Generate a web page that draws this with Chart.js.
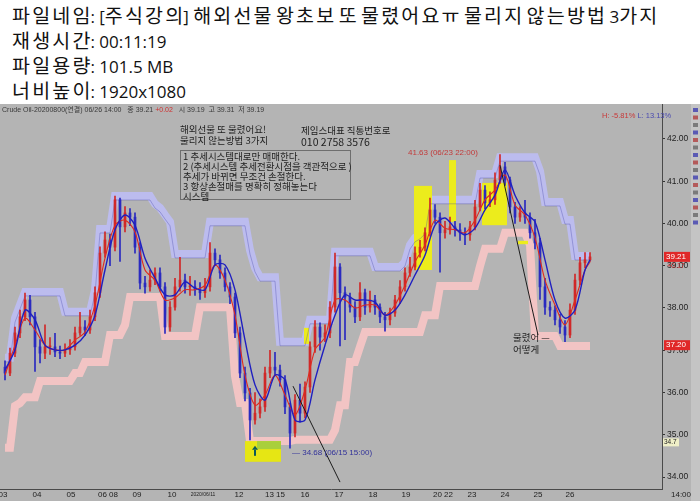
<!DOCTYPE html>
<html>
<head>
<meta charset="utf-8">
<script src="https://cdn.jsdelivr.net/npm/chart.js@4.4.1/dist/chart.umd.min.js"></script>
<style>
  body { margin: 0; background: #fff; width: 700px; height: 501px; overflow: hidden; position: relative; }
  #head { position: absolute; left: 12px; top: 4px; font-family: "Open Sans", "Noto Sans CJK KR", sans-serif; font-size: 17px; color: #111; }
  #head div { height: 25px; line-height: 25px; white-space: nowrap; }
  #head .k { font-family: "Noto Sans CJK KR", sans-serif; font-size: 19.5px; letter-spacing: 2.2px; margin-right: -2.2px; line-height: 1; }
  #wrap { position: absolute; left: 0; top: 104px; width: 700px; height: 397px; background: #b4b4b4; }
  .t { position: absolute; white-space: nowrap; font-family: "Noto Sans CJK KR", sans-serif; color: #1e1e1e; font-size: 9.5px; line-height: 11px; }
  #rules { position: absolute; left: 180px; top: 46px; width: 171px; height: 50px; border: 1px solid #6e6e6e; box-sizing: border-box; padding-left: 2px; font-size: 9.5px; line-height: 10px; }
</style>
</head>
<body>
<div id="head">
  <div><span class="k">파일네임</span>: [<span class="k">주식강의</span>] <span class="k">해외선물</span> <span class="k">왕초보</span> <span class="k">또</span> <span class="k">물렸어요ㅠ</span> <span class="k">물리지</span> <span class="k">않는방법</span> 3<span class="k">가지</span></div>
  <div><span class="k">재생시간</span>: 00:11:19</div>
  <div><span class="k">파일용량</span>: 101.5 MB</div>
  <div><span class="k">너비높이</span>: 1920x1080</div>
</div>
<div id="wrap">
  <canvas id="chart" width="700" height="397"></canvas>
  <div class="t" style="left:180px;top:20px">해외선물 또 물렸어요!<br>물리지 않는방법 3가지</div>
  <div class="t" style="left:301px;top:21px">제임스대표 직통번호로<br><span style="font-size:10.5px">010 2758 3576</span></div>
  <div class="t" id="rules">1 추세시스템대로만 매매한다.<br>2 (추세시스템 추세전환시점을 객관적으로 )<br>추세가 바뀌면 무조건 손절한다.<br>3 항상손절매를 명확히 정해놓는다<br>시스템</div>
</div>
<script>
// hourly crude oil candles, one every ~5px of the picture
const opens = [36.60, 36.46, 36.93, 37.41, 37.79, 38.19, 37.79, 37.08, 36.93, 37.08,
  37.08, 36.96, 36.93, 37.01, 37.08, 37.41, 37.55, 37.48, 37.79, 38.36,
  39.30, 39.61, 39.44, 40.56, 39.92, 40.25, 40.15, 39.44, 38.59, 38.50,
  38.66, 38.83, 38.50, 37.55, 38.02, 38.50, 38.66, 38.50, 38.50, 38.43,
  38.36, 38.50, 39.30, 39.14, 38.83, 38.50, 38.26, 37.41, 36.46, 35.99,
  35.35, 35.51, 35.66, 36.46, 36.60, 36.53, 36.30, 35.66, 35.04, 35.82,
  35.51, 36.13, 37.08, 37.55, 37.31, 37.41, 38.02, 38.97, 38.36, 38.26,
  38.02, 37.79, 38.36, 38.02, 38.19, 38.02, 37.79, 37.72, 37.88, 38.19,
  38.50, 38.83, 38.97, 39.30, 39.44, 39.78, 40.32, 40.15, 39.78, 39.85,
  39.92, 39.85, 39.78, 39.73, 39.92, 40.39, 40.79, 40.49, 40.56, 41.03,
  41.34, 41.03, 40.39, 40.15, 40.25, 40.15, 39.78, 39.54, 38.50, 38.02,
  37.95, 37.72, 37.55, 37.36, 37.95, 38.66, 39.07, 39.14];
const closes = [36.46, 36.93, 37.41, 37.79, 38.19, 37.79, 37.08, 36.93, 37.08, 37.08,
  36.96, 36.93, 37.01, 37.08, 37.41, 37.55, 37.48, 37.79, 38.36, 39.30,
  39.61, 39.44, 40.56, 39.92, 40.25, 40.15, 39.44, 38.59, 38.50, 38.66,
  38.83, 38.50, 37.55, 38.02, 38.50, 38.66, 38.50, 38.50, 38.43, 38.36,
  38.50, 39.30, 39.14, 38.83, 38.50, 38.26, 37.41, 36.46, 35.99, 35.35,
  35.51, 35.66, 36.46, 36.60, 36.53, 36.30, 35.66, 35.04, 35.82, 35.51,
  36.13, 37.08, 37.55, 37.31, 37.41, 38.02, 38.97, 38.36, 38.26, 38.02,
  37.79, 38.36, 38.02, 38.19, 38.02, 37.79, 37.72, 37.88, 38.19, 38.50,
  38.83, 38.97, 39.30, 39.44, 39.78, 40.32, 40.15, 39.78, 39.85, 39.92,
  39.85, 39.78, 39.73, 39.92, 40.39, 40.79, 40.49, 40.56, 41.03, 41.34,
  41.03, 40.39, 40.15, 40.25, 40.15, 39.78, 39.54, 38.50, 38.02, 37.95,
  37.72, 37.55, 37.36, 37.95, 38.66, 39.07, 39.14, 39.21];
const highs = [36.75, 37.05, 37.55, 37.95, 38.35, 38.30, 37.90, 37.25, 37.60, 37.30,
  37.40, 37.10, 37.15, 37.25, 37.55, 37.90, 37.70, 37.95, 38.50, 39.45,
  39.80, 39.75, 40.65, 40.60, 40.40, 40.35, 40.25, 39.55, 38.75, 38.90,
  38.95, 38.95, 38.60, 38.15, 38.70, 39.20, 38.80, 38.75, 38.65, 38.60,
  38.70, 39.55, 39.40, 39.25, 38.95, 38.60, 38.35, 37.55, 36.60, 36.10,
  36.00, 35.85, 36.60, 37.00, 36.95, 36.65, 36.40, 35.75, 35.95, 36.20,
  36.25, 37.20, 37.70, 37.65, 37.60, 38.15, 39.30, 39.05, 38.50, 38.35,
  38.15, 38.60, 38.45, 38.40, 38.30, 38.10, 37.90, 38.00, 38.30, 38.65,
  38.95, 39.20, 39.45, 39.60, 39.90, 40.60, 40.45, 40.25, 40.05, 40.15,
  40.05, 40.00, 39.90, 40.05, 40.55, 40.95, 40.90, 40.75, 41.20, 41.63,
  41.45, 41.10, 40.50, 40.40, 40.55, 40.25, 40.10, 39.65, 38.70, 38.15,
  38.05, 37.85, 37.70, 38.10, 38.80, 39.20, 39.31, 39.31];
const lows = [36.30, 36.40, 36.85, 37.30, 37.70, 37.60, 36.50, 36.70, 36.80, 36.90,
  36.85, 36.80, 36.85, 36.90, 37.00, 37.35, 37.35, 37.40, 37.70, 38.25,
  39.20, 39.00, 39.35, 39.10, 39.80, 39.95, 39.30, 38.45, 38.35, 38.40,
  38.55, 38.40, 37.40, 37.45, 37.95, 38.40, 38.35, 38.30, 38.30, 38.20,
  38.25, 38.40, 39.00, 38.70, 38.40, 38.10, 37.30, 36.35, 35.80, 34.88,
  35.25, 35.40, 35.55, 36.35, 36.40, 36.15, 35.50, 34.68, 34.95, 35.30,
  35.40, 36.00, 36.95, 37.00, 37.20, 37.30, 37.90, 37.10, 37.25, 37.90,
  37.65, 37.70, 37.85, 37.90, 37.85, 37.65, 37.45, 37.60, 37.80, 38.10,
  38.40, 38.75, 38.90, 39.20, 39.35, 39.70, 40.00, 38.85, 39.65, 39.75,
  39.70, 39.60, 39.50, 39.60, 39.85, 40.30, 40.35, 40.40, 40.45, 40.95,
  40.90, 40.25, 40.00, 40.05, 40.00, 39.65, 39.40, 38.20, 37.85, 37.80,
  37.60, 37.40, 37.20, 37.30, 37.85, 38.55, 38.95, 39.10];

// stepped channel (upper lavender, lower pink), same spacing as the candles
const upperBand = [36.82, 36.82, 37.76, 38.07, 38.38, 38.38, 38.38, 38.38, 38.38, 38.38,
  38.38, 38.38, 37.91, 37.91, 37.91, 37.91, 37.91, 37.91, 38.43, 39.87,
  39.87, 39.87, 40.65, 40.65, 40.65, 40.65, 40.65, 40.65, 40.65, 40.65,
  40.46, 40.37, 40.20, 40.04, 39.28, 39.28, 39.28, 39.28, 39.28, 39.28,
  39.28, 40.04, 40.04, 40.04, 40.04, 40.04, 40.04, 40.04, 40.04, 39.37,
  38.95, 38.73, 38.73, 38.73, 38.73, 37.20, 37.20, 37.20, 37.20, 37.20,
  37.20, 37.72, 37.72, 37.72, 37.72, 37.72, 39.33, 39.33, 39.33, 39.33,
  39.33, 39.33, 39.33, 39.33, 38.97, 38.97, 38.97, 38.97, 38.97, 38.97,
  39.09, 39.49, 39.66, 39.73, 39.85, 40.56, 40.56, 40.56, 40.56, 40.56,
  40.56, 40.56, 40.56, 40.56, 40.56, 41.17, 41.17, 41.17, 41.17, 41.57,
  41.57, 41.57, 41.57, 41.57, 41.57, 41.57, 41.57, 41.24, 40.51, 40.51,
  40.51, 40.51, 40.08, 40.08, 39.23, 39.23, 39.23, 39.23];
const lowerBand = [34.69, 34.69, 35.68, 35.75, 35.89, 35.89, 35.89, 36.27, 36.27, 36.27,
  36.27, 36.27, 36.27, 36.27, 36.46, 36.46, 36.72, 36.72, 36.72, 36.72,
  36.72, 37.36, 37.36, 37.36, 37.60, 38.26, 38.26, 38.26, 38.26, 38.26,
  38.26, 38.26, 37.34, 37.34, 37.34, 37.34, 37.34, 37.34, 37.34, 38.02,
  38.02, 38.02, 38.02, 38.02, 38.02, 38.02, 36.39, 35.75, 35.75, 34.85,
  34.85, 34.85, 34.85, 34.85, 34.85, 34.85, 34.85, 34.85, 34.88, 34.88,
  34.88, 34.88, 34.88, 34.88, 34.88, 34.88, 35.11, 35.70, 35.70, 36.72,
  36.72, 37.08, 37.43, 37.43, 37.43, 37.43, 37.43, 37.43, 37.43, 37.43,
  37.43, 37.43, 37.43, 37.43, 37.83, 37.83, 37.83, 38.52, 38.52, 38.52,
  38.52, 38.52, 38.52, 38.52, 38.52, 38.99, 39.40, 39.40, 39.40, 39.40,
  39.78, 39.78, 39.78, 39.78, 39.78, 39.49, 37.34, 37.34, 37.34, 37.34,
  37.34, 37.10, 37.10, 37.10, 37.10, 37.10, 37.10, 37.10];

// the two averages, read every second candle (last one on the final candle)
const redLine = [36.41, 37.12, 37.76, 37.48, 37.12, 37.01, 37.01, 37.24, 37.43, 38.07,
  39.18, 39.96, 40.08, 39.80, 38.90, 38.66, 38.19, 38.24, 38.43, 38.43,
  38.54, 39.02, 38.66, 37.83, 36.41, 35.70, 35.94, 36.41, 35.94, 35.47,
  36.06, 37.01, 37.31, 38.19, 38.19, 38.00, 38.07, 38.07, 37.83, 38.07,
  38.54, 39.09, 39.49, 40.08, 39.89, 39.85, 39.78, 40.08, 40.56, 40.79,
  41.15, 40.44, 40.20, 39.66, 38.66, 38.07, 37.60, 38.19, 38.90, 39.09];
const blueLine = [36.53, 37.01, 37.95, 37.72, 37.12, 37.01, 37.01, 37.12, 37.36, 37.83,
  38.90, 39.85, 40.20, 39.96, 39.18, 38.71, 38.31, 38.31, 38.62, 38.47,
  38.43, 39.02, 39.02, 38.43, 37.24, 36.18, 35.82, 36.41, 36.30, 35.35,
  35.35, 36.30, 37.12, 37.83, 38.31, 38.19, 38.19, 38.14, 37.83, 37.95,
  38.31, 38.78, 39.25, 39.96, 40.13, 39.89, 39.73, 39.89, 40.32, 40.67,
  41.27, 40.67, 40.25, 40.04, 39.14, 38.19, 37.76, 37.95, 38.90, 39.14];

const yTicks = [34, 35, 36, 37, 38, 39, 40, 41, 42];
const dayLabels = ["03", "04", "05", "06 08", "09", "10", "2020/06/11", "12", "13 15", "16", "17", "18", "19", "20 22", "23", "24", "25", "26"];
const dayPos = [-0.4, 6.4, 13.2, 20.6, 26.4, 33.4, 39.6, 46.8, 54, 60, 66.8, 73.6, 80.2, 87.6, 93.4, 100, 106.6, 113];

// highlighted zones and pen strokes, in candle index / price units
const zones = [
  { x0: 48, x1: 55.2, y0: 34.36, y1: 34.85, color: "#e6e614" },
  { x0: 50.4, x1: 55.2, y0: 34.66, y1: 34.85, color: "#a9cf3c" },
  { x0: 81.8, x1: 85.4, y0: 38.90, y1: 40.89, color: "#ecec1c" },
  { x0: 88.8, x1: 90.2, y0: 40.04, y1: 41.50, color: "#ecec1c" },
  { x0: 95.4, x1: 100.4, y0: 39.96, y1: 40.96, color: "#ecec1c" },
  { x0: 59.8, x1: 60.8, y0: 37.15, y1: 37.53, color: "#ecec1c" },
  { x0: 102.6, x1: 104.6, y0: 39.51, y1: 39.59, color: "#ecec1c" }
];
const strokes = [
  [57.6, 36.15, 67, 33.88],
  [99, 41.38, 106.6, 37.36]
];

const candleColor = closes.map((c, i) => c >= opens[i] ? "#d02828" : "#2a2ac0");
const lastIdx = closes.length - 1;
const avgX = i => Math.min(i * 2, lastIdx);

const ctx = document.getElementById("chart").getContext("2d");

// write a row of coloured text pieces one after another
function textRun(c, parts, x, y) {
  parts.forEach(([t, col]) => {
    c.fillStyle = col;
    c.fillText(t, x, y);
    x += c.measureText(t).width;
  });
}

const overlay = {
  id: "overlay",
  afterDatasetDraw(chart, args) {
    // yellow zones sit above the channel, under the candles
    if (args.index !== 1) return;
    const x = chart.scales.x, y = chart.scales.y, c = chart.ctx;
    c.save();
    zones.forEach(z => {
      c.fillStyle = z.color;
      const px0 = x.getPixelForValue(z.x0), px1 = x.getPixelForValue(z.x1);
      const py0 = y.getPixelForValue(z.y1), py1 = y.getPixelForValue(z.y0);
      c.fillRect(px0, py0, px1 - px0, py1 - py0);
    });
    // thin edge under the lavender band
    const pts = chart.getDatasetMeta(0).data;
    c.strokeStyle = "rgba(70,70,170,0.35)";
    c.lineWidth = 1;
    c.beginPath();
    pts.forEach((p, i) => i ? c.lineTo(p.x, p.y + 4) : c.moveTo(p.x, p.y + 4));
    c.stroke();
    c.restore();
  },
  afterDraw(chart) {
    const x = chart.scales.x, y = chart.scales.y, c = chart.ctx;
    c.save();
    // pen strokes
    c.strokeStyle = "#1c1c1c";
    c.lineWidth = 1;
    strokes.forEach(s => {
      c.beginPath();
      c.moveTo(x.getPixelForValue(s[0]), y.getPixelForValue(s[1]));
      c.lineTo(x.getPixelForValue(s[2]), y.getPixelForValue(s[3]));
      c.stroke();
    });
    // green arrow in the low zone
    const ax = x.getPixelForValue(50), ay = y.getPixelForValue(34.62);
    c.fillStyle = "#0d5a5a";
    c.beginPath();
    c.moveTo(ax, ay - 5); c.lineTo(ax - 3, ay - 1); c.lineTo(ax + 3, ay - 1); c.closePath();
    c.fill();
    c.fillRect(ax - 1, ay - 1, 2, 6);

    c.font = "8px 'Liberation Sans', sans-serif";
    c.textBaseline = "middle";
    c.fillStyle = "#c23a3a";
    c.fillText("41.63 (06/23 22:00)", x.getPixelForValue(80.6), y.getPixelForValue(41.67));
    c.fillStyle = "#33339a";
    c.fillText("\u2014 34.68 (06/15 15:00)", x.getPixelForValue(57.4), y.getPixelForValue(34.58));

    // top info line and H/L
    c.font = "7px 'Liberation Sans', 'Noto Sans CJK KR', sans-serif";
    textRun(c, [["Crude Oil-20200800(연결) 06/26 14:00   종 39.21 ", "#3a3a3a"], ["+0.02", "#d03030"],
      ["   시 39.19  고 39.31  저 39.19", "#3a3a3a"]], 2, 6);
    c.font = "7.5px 'Liberation Sans', sans-serif";
    textRun(c, [["H: -5.81% ", "#c83838"], ["L: 13.13%", "#4a4ab0"]], 602, 12);

    // Korean note near the fall
    c.fillStyle = "#1e1e1e";
    c.font = "9.5px 'Noto Sans CJK KR', sans-serif";
    c.fillText("물렸어 \u2014", x.getPixelForValue(101.6), y.getPixelForValue(37.31));
    c.fillText("어떻게", x.getPixelForValue(101.6), y.getPixelForValue(37.03));

    // price tags on the right axis
    const tag = (v, text, bg, fg) => {
      const py = y.getPixelForValue(v);
      c.fillStyle = bg;
      c.fillRect(664, py - 5, 26, 10);
      c.fillStyle = fg;
      c.font = "8px 'Liberation Sans', sans-serif";
      c.fillText(text, 666, py);
    };
    tag(closes[lastIdx], "39.21", "#e02828", "#ffffff");
    tag(37.12, "37.20", "#e02828", "#ffffff");
    c.fillStyle = "#f0f0c8";
    c.fillRect(663, y.getPixelForValue(34.82) - 4, 16, 8);
    c.fillStyle = "#222";
    c.font = "6.5px 'Liberation Sans', sans-serif";
    c.fillText("34.7", 664, y.getPixelForValue(34.82));
    c.fillStyle = "#d03030";
    c.font = "7px 'Liberation Sans', sans-serif";
    c.fillText("+0.17", 667, y.getPixelForValue(closes[lastIdx]) + 9);

    // day labels along the bottom
    const by = chart.chartArea.bottom + 6;
    c.fillStyle = "#222";
    c.textAlign = "center";
    dayLabels.forEach((t, i) => {
      c.font = t.length > 6 ? "5px 'Liberation Sans', sans-serif" : "8px 'Liberation Sans', sans-serif";
      c.fillText(t, x.getPixelForValue(dayPos[i]), by);
    });
    c.font = "8px 'Liberation Sans', sans-serif";
    c.fillText("14:00", 681, by);

    // toolbar strip
    c.fillStyle = "#c4c4c4";
    c.fillRect(691, 0, 9, 397);
    for (let i = 0; i < 16; i++) {
      c.fillStyle = i % 3 === 0 ? "#5a5ab4" : (i % 3 === 1 ? "#b45a5a" : "#7a7a7a");
      c.fillRect(693, 4 + i * 7.5, 5, 4);
    }
    c.restore();
  }
};

new Chart(ctx, {
  type: "bar",
  data: {
    datasets: [
      {
        type: "line",
        data: upperBand.map((v, i) => ({ x: i, y: v })),
        borderColor: "#bcbcee",
        borderWidth: 8,
        borderCapStyle: "butt",
        pointRadius: 0,
        tension: 0,
        order: 10
      },
      {
        type: "line",
        data: lowerBand.map((v, i) => ({ x: i, y: v })),
        borderColor: "#f2c4c4",
        borderWidth: 8,
        borderCapStyle: "butt",
        pointRadius: 0,
        tension: 0,
        order: 9
      },
      {
        data: closes.map((c, i) => ({ x: i, y: [lows[i], highs[i]] })),
        backgroundColor: candleColor,
        barThickness: 1,
        grouped: false,
        order: 6
      },
      {
        data: closes.map((c, i) => ({ x: i, y: [opens[i], c] })),
        backgroundColor: candleColor,
        barThickness: 2,
        minBarLength: 1,
        grouped: false,
        order: 5
      },
      {
        type: "line",
        data: redLine.map((v, i) => ({ x: avgX(i), y: v })),
        borderColor: "#e02a1e",
        borderWidth: 1.1,
        pointRadius: 0,
        tension: 0.3,
        order: 2
      },
      {
        type: "line",
        data: blueLine.map((v, i) => ({ x: avgX(i), y: v })),
        borderColor: "#1f1fc0",
        borderWidth: 1.4,
        pointRadius: 0,
        tension: 0.3,
        order: 1
      }
    ]
  },
  options: {
    responsive: false,
    animation: false,
    events: [],
    layout: { padding: 0 },
    plugins: { legend: { display: false }, tooltip: { enabled: false } },
    scales: {
      x: {
        type: "linear",
        offset: false,
        min: -1,
        max: 131.4,
        ticks: { display: false },
        grid: { display: false, offset: false },
        border: { display: true, color: "#4a4a4a" },
        afterFit(s) { s.height = 12; s.paddingLeft = 0; s.paddingRight = 0; }
      },
      y: {
        position: "right",
        min: 33.716,
        max: 42.828,
        afterBuildTicks(s) { s.ticks = yTicks.map(v => ({ value: v })); },
        ticks: {
          color: "#1e1e1e",
          padding: 2,
          font: { family: "'Liberation Sans', sans-serif", size: 8.5 },
          callback: v => v.toFixed(2)
        },
        grid: { drawOnChartArea: false, tickLength: 3, color: "#333" },
        border: { display: true, color: "#4a4a4a" },
        afterFit(s) { s.width = 38; s.paddingTop = 0; s.paddingBottom = 0; }
      }
    }
  },
  plugins: [overlay]
});
</script>
</body>
</html>
